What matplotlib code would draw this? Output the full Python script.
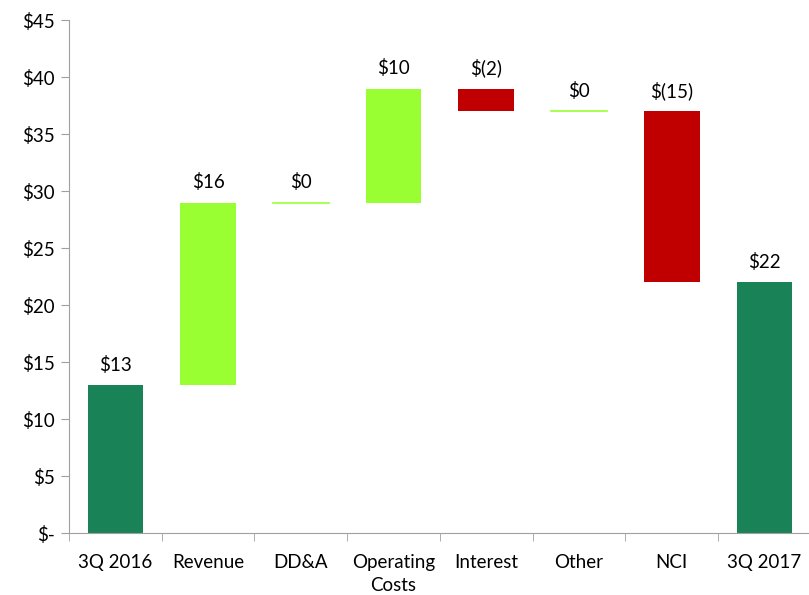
import matplotlib
matplotlib.use('Agg')
import matplotlib.pyplot as plt
import numpy as np

plt.rcParams['font.family'] = ['Lato', 'DejaVu Sans']

categories = ['3Q 2016', 'Revenue', 'DD&A', 'Operating\nCosts', 'Interest', 'Other', 'NCI', '3Q 2017']
values = [13, 16, 0, 10, -2, 0, -15, 22]
is_total = [True, False, False, False, False, False, False, True]
labels = ['$13', '$16', '$0', '$10', '$(2)', '$0', '$(15)', '$22']

dark_green = '#1A8257'
light_green = '#99FF33'
red = '#C00000'

bottoms = []
heights = []
colors = []
running = 0
for v, tot in zip(values, is_total):
    if tot:
        bottoms.append(0)
        heights.append(v)
        colors.append(dark_green)
        running = v
    else:
        bottoms.append(running)
        heights.append(v)
        colors.append(light_green if v >= 0 else red)
        running += v

fig = plt.figure(figsize=(8.09, 5.95), dpi=100)
ax = fig.add_axes([0.0853, 0.104, 0.917, 0.862])

x = np.arange(len(categories))
for xi, b, h, c in zip(x, bottoms, heights, colors):
    if h == 0:
        ax.plot([xi - 0.3, xi + 0.3], [b, b], color=c, lw=1.2)
    else:
        ax.bar(xi, h, bottom=b, width=0.6, color=c)
    top = max(b, b + h)
    ax.text(xi, top + 1.0, labels[xi], ha='center', va='bottom', fontsize=13.5)

ax.set_xlim(-0.5, len(categories) - 0.5)
ax.set_ylim(0, 45)
ax.set_yticks(np.arange(0, 46, 5))
ax.set_yticklabels(['$-'] + ['$%d' % t for t in range(5, 46, 5)], fontsize=13.5)
ax.set_xticks(x)
ax.set_xticklabels(categories, fontsize=13.5, linespacing=1.45)
ax.set_xticks(np.arange(-0.5, len(categories), 1.0), minor=True)
ax.tick_params(axis='x', which='major', length=0, pad=15)
ax.tick_params(axis='x', which='minor', length=6, color='#A0A0A0', direction='out')
ax.tick_params(axis='y', length=6, color='#A0A0A0', direction='out', pad=4)

for s in ['top', 'right']:
    ax.spines[s].set_visible(False)
for s in ['left', 'bottom']:
    ax.spines[s].set_color('#A0A0A0')

fig.savefig('out.png', dpi=100)
